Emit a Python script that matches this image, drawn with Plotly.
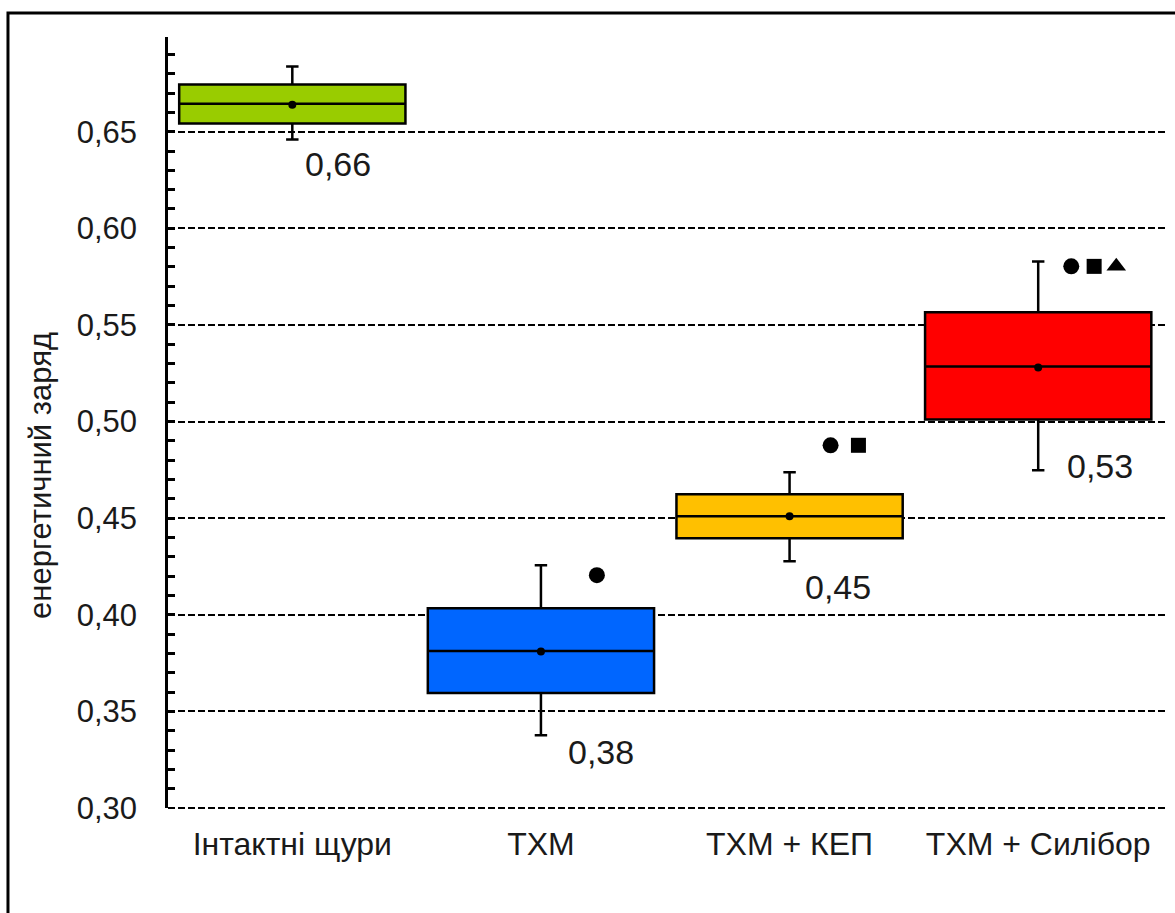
import plotly.graph_objects as go

# Groups and box statistics (energy charge)
groups = ["Інтактні щури", "ТХМ", "ТХМ + КЕП", "ТХМ + Силібор"]
q1 = [0.6542, 0.3595, 0.4396, 0.5011]
median = [0.6645, 0.3812, 0.4510, 0.5285]
q3 = [0.6744, 0.4034, 0.4624, 0.5565]
lower_fence = [0.6459, 0.3377, 0.4277, 0.4748]
upper_fence = [0.6837, 0.4256, 0.4737, 0.5828]
mean = [0.664, 0.381, 0.451, 0.528]

# Significance symbols shown above each box
sig_level = [None, 0.4205, 0.4877, 0.5803]
sig_symbols = [[], ["circle"], ["circle", "square"], ["circle", "square", "triangle-up"]]

# Styling / placement
colors = ["#99CC00", "#0066FF", "#FFC000", "#FF0000"]
sig_offsets = [[], [0.225], [0.165, 0.277], [0.133, 0.225, 0.314]]
sig_sizes = {"circle": 16, "square": 15, "triangle-up": 17}
label_dx = [0.185, 0.24, 0.195, 0.25]
label_y = [0.6335, 0.329, 0.4142, 0.4768]

FONT = "Arial, Liberation Sans, sans-serif"
DASH = "7px,3px"
Y_MIN, Y_MAX = 0.30, 0.699

fig = go.Figure()

for i, g in enumerate(groups):
    fig.add_trace(go.Box(
        x=[i], q1=[q1[i]], median=[median[i]], q3=[q3[i]],
        lowerfence=[lower_fence[i]], upperfence=[upper_fence[i]],
        width=0.91, whiskerwidth=0.055,
        fillcolor=colors[i], line=dict(color="black", width=2.5),
        boxpoints=False, showlegend=False, hoverinfo="skip",
    ))

# Mean markers
fig.add_trace(go.Scatter(
    x=list(range(len(groups))), y=mean, mode="markers",
    marker=dict(color="black", size=8), showlegend=False, hoverinfo="skip",
))

# Significance marks
for i in range(len(groups)):
    for sym, dx in zip(sig_symbols[i], sig_offsets[i]):
        fig.add_trace(go.Scatter(
            x=[i + dx], y=[sig_level[i]], mode="markers",
            marker=dict(symbol=sym, color="black", size=sig_sizes[sym]),
            showlegend=False, hoverinfo="skip",
        ))

# Value labels
for i, m in enumerate(mean):
    fig.add_annotation(
        x=i + label_dx[i], y=label_y[i], text=f"{m:.2f}".replace(".", ","),
        showarrow=False, xanchor="center", yanchor="middle",
        font=dict(family=FONT, size=34, color="#1a1a1a"),
    )

# Y axis title
fig.add_annotation(
    xref="paper", yref="paper", x=-0.1274, y=0.432,
    text="енергетичний заряд", textangle=-90, showarrow=False,
    xanchor="center", yanchor="middle",
    font=dict(family=FONT, size=31, color="#1a1a1a"),
)

# Dashed baseline along the bottom edge of the plot area
fig.add_shape(
    type="line", xref="paper", yref="paper", x0=0, x1=1, y0=0, y1=0,
    line=dict(color="black", width=2, dash=DASH), layer="below",
)

# Outer frame
fig.add_shape(
    type="rect", xref="paper", yref="paper",
    x0=-0.1605, x1=1.02, y0=-0.16, y1=1.0311,
    line=dict(color="black", width=3), fillcolor="rgba(0,0,0,0)", layer="above",
)

fig.update_layout(
    width=1175, height=913,
    margin=dict(l=168, r=10, t=37, b=105),
    paper_bgcolor="white", plot_bgcolor="white",
    separators=", ",
    font=dict(family=FONT, size=31, color="#1a1a1a"),
    showlegend=False,
)

fig.update_xaxes(
    range=[-0.5, 3.51], tickvals=list(range(len(groups))), ticktext=groups,
    showgrid=False, zeroline=False, showline=False, ticks="",
    tickfont=dict(family=FONT, size=32, color="#1a1a1a"),
    ticklabelstandoff=14,
)

fig.update_yaxes(
    range=[Y_MIN, Y_MAX], tick0=0.30, dtick=0.05, tickformat=".2f",
    showgrid=True, gridcolor="black", gridwidth=2, griddash=DASH,
    zeroline=False, showline=True, linecolor="black", linewidth=2.5,
    ticks="inside", ticklen=7, tickwidth=2.5, tickcolor="black",
    minor=dict(dtick=0.01, ticks="inside", ticklen=7, tickwidth=2.5,
               tickcolor="black", showgrid=False),
    tickfont=dict(family=FONT, size=31, color="#1a1a1a"),
    ticklabelstandoff=22,
)

fig.write_html("out.html")
